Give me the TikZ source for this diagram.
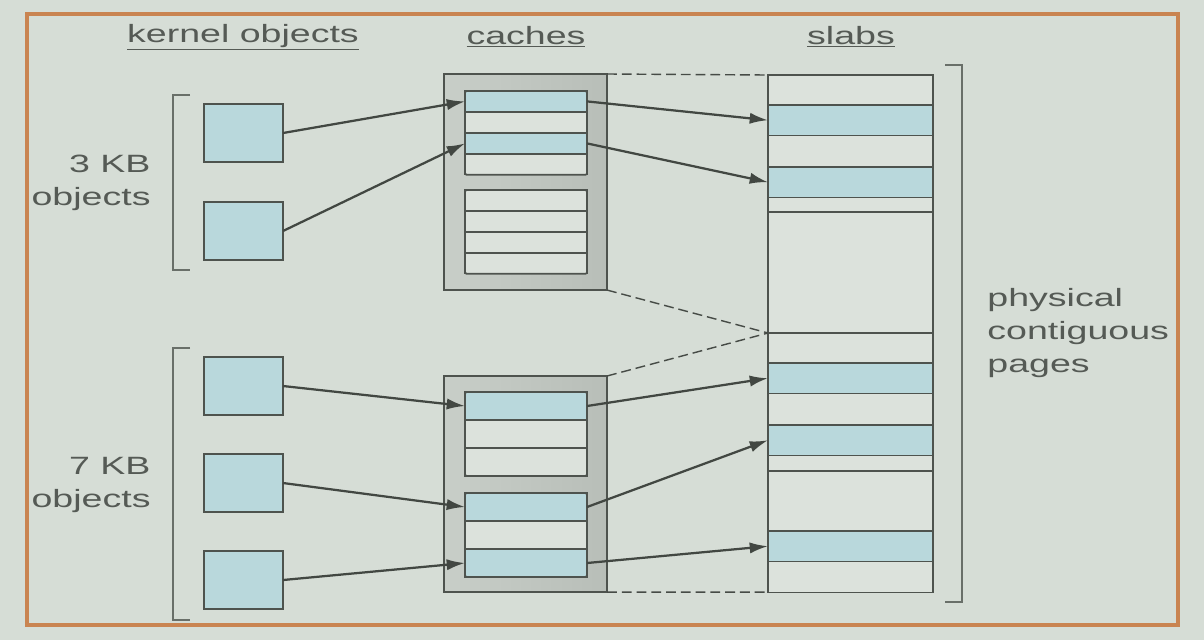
\documentclass[tikz,border=0pt]{standalone}
\usepackage{fontspec}
\setmainfont{Liberation Sans}
\usetikzlibrary{shapes.geometric, arrows.meta}
\definecolor{bggrey}{HTML}{D6DDD6}
\definecolor{rowgrey}{HTML}{DCE2DC}
\definecolor{slabblue}{HTML}{B9D8DC}
\definecolor{cachelight}{HTML}{C8CEC8}
\definecolor{cachedark}{HTML}{B8BEB8}
\definecolor{linegrey}{HTML}{4E534E}
\definecolor{textgrey}{HTML}{555A55}
\definecolor{frameorange}{HTML}{C98451}
\tikzset{
	obj/.style={draw=linegrey, line width=0.9pt, fill=slabblue, minimum width=1.975cm, minimum height=1.45cm, inner sep=0pt, outer sep=0pt, anchor=north west},
	cache/.style={draw=linegrey, line width=0.9pt, left color=cachelight, right color=cachedark, minimum width=4.075cm, minimum height=5.4cm, inner sep=0pt, outer sep=0pt, anchor=north west},
	rowa/.style={draw=linegrey, line width=0.9pt, fill=rowgrey, minimum width=3.05cm, minimum height=0.52cm, inner sep=0pt, outer sep=0pt, anchor=north west},
	rowb/.style={rowa, minimum height=0.7cm},
	slabrow/.style={draw=linegrey, line width=0.9pt, fill=slabblue, minimum width=4.125cm, minimum height=0.76cm, inner sep=0pt, outer sep=0pt, anchor=north west},
	label/.style={text=textgrey, font=\fontsize{17.8}{23.5}\selectfont, xscale=1.5, inner sep=0pt},
	ptr/.style={-{Latex[length=13pt, width=8pt]}, line width=1.6pt, color=linegrey!85!black},
	link/.style={line width=1pt, color=linegrey!90!black, dash pattern=on 7pt off 3.5pt},
	brace/.style={line width=1pt, color=linegrey!80!bggrey}
}

\begin{document}
\begin{tikzpicture}[x=0.025cm, y=-0.025cm]
	\path[use as bounding box, fill=bggrey] (0,0) rectangle (1204,640);
	\draw[color=frameorange, line width=2.8pt] (27,14) rectangle (1178,625);

	\node[label] (tk) at (243,37) {\underline{kernel objects}};
	\node[label] (tc) at (526,37) {\underline{caches}};
	\node[label] (ts) at (851,37) {\underline{slabs}};

	\node[label, align=right, anchor=east] (l3) at (151,183) {3 KB\\objects};
	\node[label, align=right, anchor=east] (l7) at (151,485) {7 KB\\objects};
	\node[label, align=left, anchor=west] (lp) at (987,333) {physical\\contiguous\\pages};

	\draw[brace] (190,95) -- (173,95) -- (173,270) -- (190,270);
	\draw[brace] (190,348) -- (173,348) -- (173,620) -- (190,620);
	\draw[brace] (945,65) -- (962,65) -- (962,602) -- (945,602);

	\node[obj] (o1) at (204,104) {};
	\node[obj] (o2) at (204,202) {};
	\node[obj] (o3) at (204,357) {};
	\node[obj] (o4) at (204,454) {};
	\node[obj] (o5) at (204,551) {};

	\node[cache] (c1) at (444,74) {};
	\node[rowa, fill=slabblue] (a1) at (465,91) {};
	\node[rowa] (a2) at (465,112) {};
	\node[rowa, fill=slabblue] (a3) at (465,133) {};
	\node[rowa] (a4) at (465,154) {};
	\node[rowa] (a5) at (465,190) {};
	\node[rowa] (a6) at (465,211) {};
	\node[rowa] (a7) at (465,232) {};
	\node[rowa] (a8) at (465,253) {};
	\draw[color=linegrey, line width=1.2pt, rounded corners=1pt] (a1.north west) rectangle (a4.south east);
	\draw[color=linegrey, line width=1.2pt, rounded corners=1pt] (a5.north west) rectangle (a8.south east);

	\node[cache] (c2) at (444,376) {};
	\node[rowb, fill=slabblue] (b1) at (465,392) {};
	\node[rowb] (b2) at (465,420) {};
	\node[rowb] (b3) at (465,448) {};
	\node[rowb, fill=slabblue] (b4) at (465,493) {};
	\node[rowb] (b5) at (465,521) {};
	\node[rowb, fill=slabblue] (b6) at (465,549) {};
	\draw[color=linegrey, line width=1.2pt, rounded corners=1pt] (b1.north west) rectangle (b3.south east);
	\draw[color=linegrey, line width=1.2pt, rounded corners=1pt] (b4.north west) rectangle (b6.south east);

	\node[draw=linegrey, line width=0.9pt, fill=rowgrey, minimum width=4.125cm, minimum height=12.925cm, inner sep=0pt, outer sep=0pt, anchor=north west] (slab) at (768,75) {};
	\node[slabrow] (s1) at (768,105) {};
	\node[slabrow] (s2) at (768,167) {};
	\node[slabrow] (s3) at (768,363) {};
	\node[slabrow] (s4) at (768,425) {};
	\node[slabrow] (s5) at (768,531) {};
	\draw[color=linegrey, line width=0.9pt] (768,212) -- (933,212);
	\draw[color=linegrey, line width=0.9pt] (768,333) -- (933,333);
	\draw[color=linegrey, line width=0.9pt] (768,471) -- (933,471);
	\coordinate (mid) at (768,333);

	\draw[link] (c1.north east) -- (slab.north west);
	\draw[link] (c1.south east) -- (mid);
	\draw[link] (c2.north east) -- (mid);
	\draw[link] (c2.south east) -- (slab.south west);

	\draw[ptr] (o1.east) -- (a1.west);
	\draw[ptr] (o2.east) -- (a3.west);
	\draw[ptr] (a1.east) -- (s1.west);
	\draw[ptr] (a3.east) -- (s2.west);
	\draw[ptr] (o3.east) -- (b1.west);
	\draw[ptr] (o4.east) -- (b4.west);
	\draw[ptr] (o5.east) -- (b6.west);
	\draw[ptr] (b1.east) -- (s3.west);
	\draw[ptr] (b4.east) -- (s4.west);
	\draw[ptr] (b6.east) -- (s5.west);
\end{tikzpicture}
\end{document}
